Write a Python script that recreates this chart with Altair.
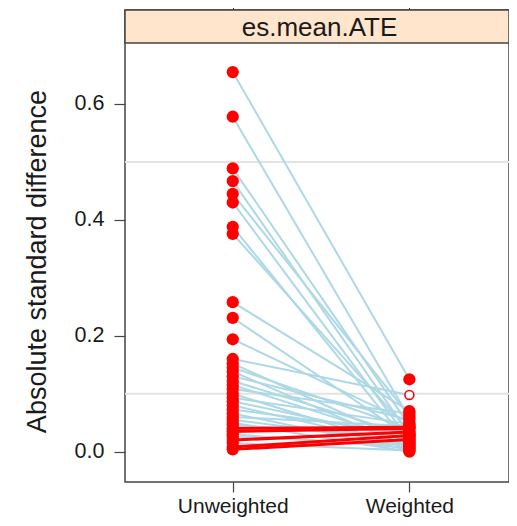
import altair as alt
import pandas as pd

stages = ["Unweighted", "Weighted"]
panel_label = "es.mean.ATE"
y_title = "Absolute standard difference"

# absolute standard differences per covariate, before and after weighting
unweighted = [0.655, 0.578, 0.489, 0.467, 0.445, 0.430, 0.388, 0.376, 0.258, 0.231,
              0.194, 0.160, 0.152, 0.145, 0.138, 0.130, 0.122, 0.115, 0.108, 0.100,
              0.093, 0.087, 0.080, 0.073, 0.066, 0.060, 0.055, 0.050, 0.046, 0.040,
              0.035, 0.030, 0.026, 0.020, 0.015, 0.008, 0.004]
weighted = [0.125, 0.058, 0.045, 0.030, 0.062, 0.020, 0.012, 0.035, 0.070, 0.025,
            0.050, 0.098, 0.015, 0.040, 0.008, 0.055, 0.028, 0.018, 0.066, 0.005,
            0.048, 0.022, 0.010, 0.032, 0.003, 0.044, 0.016, 0.000, 0.026, 0.042,
            0.040, 0.007, 0.012, 0.034, 0.002, 0.028, 0.021]
hollow_weighted = [11]          # covariates whose weighted point is drawn open
grid_values = [0.1, 0.5]
y_ticks = [0.0, 0.2, 0.4, 0.6]

rows = []
for i, (u, w) in enumerate(zip(unweighted, weighted)):
    up = w > u
    rows.append(dict(cov=i, stage=1, value=u, up=up, hollow=False))
    rows.append(dict(cov=i, stage=2, value=w, up=up, hollow=(i in hollow_weighted)))
df = pd.DataFrame(rows)

W, H = 384, 472
STRIP = 33
FONT = "Liberation Sans"
AX = "#444444"
TXT = "#1a1a1a"

xscale = alt.Scale(domain=[0.39, 2.564], nice=False, zero=False)
yscale = alt.Scale(domain=[-0.0523, 0.7622], nice=False, zero=False)

label_expr = f"datum.value == 1 ? '{stages[0]}' : '{stages[1]}'"

y_axis = alt.Axis(values=y_ticks, format=".1f", grid=False, domain=False,
                  tickSize=11, tickColor=AX, tickWidth=1.2, labelPadding=10,
                  labelFontSize=21.5, labelFont=FONT, labelColor=TXT,
                  title=y_title, titleFont=FONT, titleFontSize=27,
                  titleFontWeight="normal", titleColor=TXT,
                  titleAngle=270, titleX=-88, titleY=251,
                  titleAlign="center", titleBaseline="middle")
y_enc = alt.Y("value:Q", scale=yscale, axis=y_axis)

bottom_axis = alt.Axis(values=[1, 2], labelExpr=label_expr, title=None, grid=False,
                       domain=False, tickSize=10, tickColor=AX, tickWidth=1.2,
                       labelPadding=3, labelFontSize=21, labelFont=FONT,
                       labelColor=TXT)
top_axis = alt.Axis(orient="top", values=[1, 2], labels=False, title=None, grid=False,
                    domain=False, tickSize=10, tickColor=AX, tickWidth=1.2)

grid = alt.Chart(pd.DataFrame({"value": grid_values})).mark_rule(
    color="#E3E3E3", strokeWidth=2
).encode(y=y_enc, x=alt.value(0), x2=alt.value(W))

base = alt.Chart(df)

blue = base.transform_filter("!datum.up").mark_line(
    color="#ADD8E6", strokeWidth=2
).encode(x=alt.X("stage:Q", scale=xscale, axis=top_axis), y=y_enc,
         detail="cov:N")

red = base.transform_filter("datum.up").mark_line(
    color="#FF0000", strokeWidth=3
).encode(x=alt.X("stage:Q", scale=xscale, axis=None), y=y_enc, detail="cov:N")

pts_filled = base.transform_filter("!datum.hollow").mark_circle(
    color="#FF0000", size=150, opacity=1
).encode(x=alt.X("stage:Q", scale=xscale, axis=bottom_axis), y=y_enc)

pts_open = base.transform_filter("datum.hollow").mark_point(
    shape="circle", color="#FF0000", size=80, strokeWidth=1.6, filled=False,
    opacity=1, fill="white"
).encode(x=alt.X("stage:Q", scale=xscale, axis=None), y=y_enc)

strip_df = pd.DataFrame({"label": [panel_label]})
strip = alt.Chart(strip_df).mark_rect(
    fill="#FFE5CC", stroke=AX, strokeWidth=1.5
).encode(x=alt.value(0), x2=alt.value(W), y=alt.value(0), y2=alt.value(STRIP))

strip_text = alt.Chart(strip_df).mark_text(
    font=FONT, fontSize=26, color=TXT, baseline="middle", align="center"
).encode(x=alt.value(194.5), y=alt.value(STRIP / 2 + 1), text="label:N")

chart = alt.layer(grid, blue, red, pts_filled, pts_open, strip, strip_text).resolve_axis(
    x="independent"
).properties(
    width=W, height=H, autosize="none",
    padding={"left": 117, "top": 2, "right": 0, "bottom": 36}
).configure_view(stroke=AX, strokeWidth=1.5)

chart.save("out.html", embed_options={"renderer": "svg", "actions": False})
